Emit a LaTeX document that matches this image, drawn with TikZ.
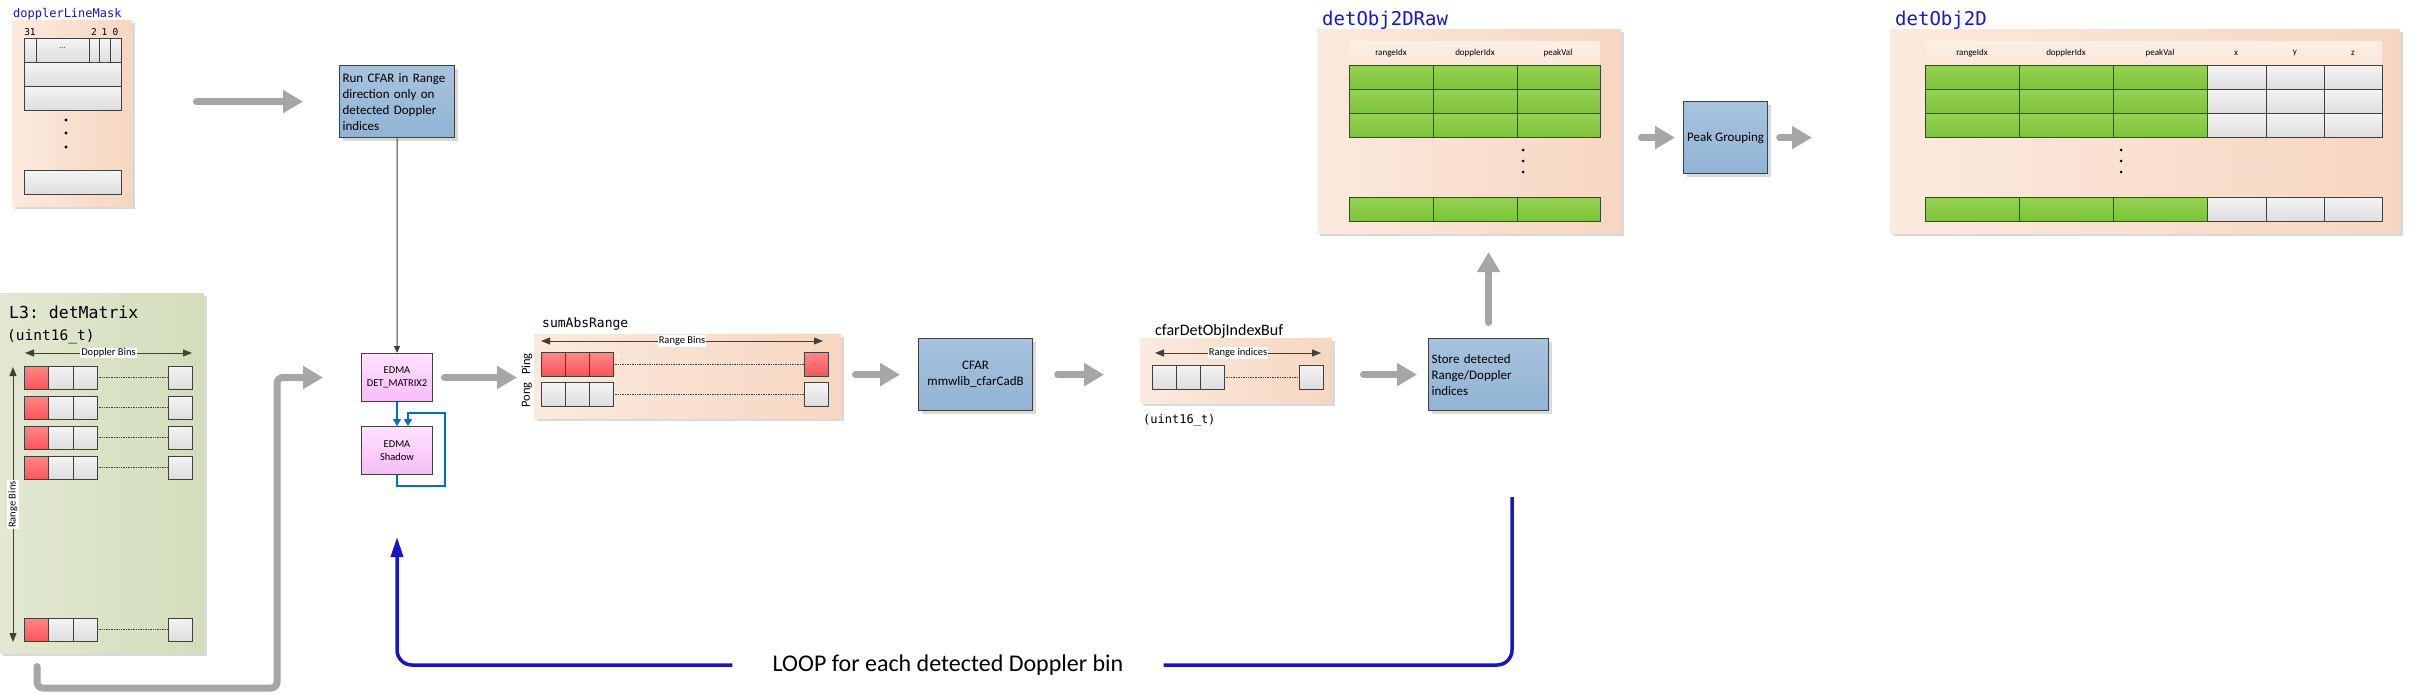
\documentclass[tikz,border=0pt]{standalone}
\usepackage{fontspec}
\setmainfont{Carlito}
\setmonofont{DejaVu Sans Mono}
\usetikzlibrary{arrows.meta,positioning,calc,shadows}

\definecolor{peachL}{RGB}{251,234,222}
\definecolor{peachR}{RGB}{246,214,192}
\definecolor{olivL}{RGB}{226,232,210}
\definecolor{olivR}{RGB}{211,221,186}
\definecolor{procT}{RGB}{167,195,222}
\definecolor{procB}{RGB}{145,179,212}
\definecolor{edmaT}{RGB}{255,226,255}
\definecolor{edmaB}{RGB}{247,188,247}
\definecolor{redT}{RGB}{255,135,135}
\definecolor{redB}{RGB}{250,85,90}
\definecolor{grayT}{RGB}{244,244,244}
\definecolor{grayB}{RGB}{222,222,222}
\definecolor{grnT}{RGB}{150,210,85}
\definecolor{grnB}{RGB}{125,195,55}
\definecolor{arrowC}{RGB}{166,166,166}
\definecolor{loopC}{RGB}{22,22,200}
\definecolor{edmaC}{RGB}{0,112,192}
\definecolor{titleC}{RGB}{22,22,210}
\definecolor{lineC}{RGB}{64,64,64}

\newcommand{\fs}[2]{\fontsize{#1}{#2}\selectfont}
\newcommand{\cellh}{24}

\tikzset{
  softshadow/.style={drop shadow={shadow xshift=3pt, shadow yshift=-3pt, fill=black, opacity=0.15}},
  memarea/.style={anchor=north west, inner sep=0pt, outer sep=0pt, left color=peachL, right color=peachR, softshadow},
  matarea/.style={anchor=north west, inner sep=0pt, outer sep=0pt, left color=olivL, right color=olivR, softshadow},
  procbox/.style={anchor=north west, draw=lineC, line width=1.2pt, top color=procT, bottom color=procB, inner sep=3pt, font=\fs{13}{16}, softshadow},
  edmabox/.style={anchor=north west, draw=lineC, line width=1pt, top color=edmaT, bottom color=edmaB, inner sep=2pt, align=center, font=\fs{10.5}{12.5}, minimum width=71pt, minimum height=48pt},
  graycell/.style={draw=lineC, line width=1pt, top color=grayT, bottom color=grayB},
  redcell/.style={draw=lineC, line width=1pt, top color=redT, bottom color=redB},
  greencell/.style={draw=lineC, line width=1pt, top color=grnT, bottom color=grnB},
  hdrband/.style={top color=white!25!peachL, bottom color=peachL!85!peachR},
  dotline/.style={draw=lineC, line width=0.7pt, densely dotted},
  dimarrow/.style={draw=lineC, line width=1pt, {Triangle[length=9pt,width=7pt]}-{Triangle[length=9pt,width=7pt]}},
  dimlbl/.style={fill=white, inner sep=1pt, font=\fs{10.5}{12}},
  collbl/.style={inner sep=0pt, font=\fs{9}{10}},
  lbl/.style={inner sep=0pt, anchor=base west},
  bitlbl/.style={inner sep=0pt, font=\ttfamily\fs{9.5}{10}},
  bigarrow/.style={draw=arrowC, line width=7pt, line cap=round, -{Triangle[length=20pt,width=22pt]}},
  thinarrow/.style={draw=lineC, line width=1pt, -{Triangle[length=7pt,width=6pt]}},
  edmaarrow/.style={draw=edmaC, line width=1.2pt, -{Triangle[length=7pt,width=8pt]}},
  loopline/.style={draw=loopC, line width=3.5pt},
}

\begin{document}
\begin{tikzpicture}[x=1pt, y=-1pt]
\useasboundingbox (0,0) rectangle (2415,694);

% dopplerLineMask
\node[memarea, minimum width=120pt, minimum height=186pt] (mask) at (12,20) {};
\node[lbl, font=\ttfamily\fs{12}{14}, text=titleC] (masktitle) at (13,17) {dopplerLineMask};
\node[bitlbl] (b31) at (30,32) {31};
\node[bitlbl] (b2) at (94,32) {2};
\node[bitlbl] (b1) at (104.5,32) {1};
\node[bitlbl] (b0) at (115.5,32) {0};
\foreach \xa/\xb in {24/36,36/89,89/99,99/110,110/121}
  \draw[graycell] (\xa,38) rectangle (\xb,62);
\node[inner sep=0pt, font=\fs{9}{9}, text=black!70] (maskdots) at (62.5,48) {...};
\foreach \ya in {62,86,170}
  \draw[graycell] (24,\ya) rectangle (121,\ya+\cellh);
\foreach \yy in {120,133,147}
  \fill (66,\yy) circle (1.6pt);

% detMatrix in L3
\node[matarea, minimum width=204pt, minimum height=360pt] (detmat) at (0,293) {};
\node[lbl, font=\ttfamily\fs{16.5}{18}] (dmtitle) at (9,318) {L3: detMatrix};
\node[lbl, font=\ttfamily\fs{14.5}{16}] (dmtype) at (7,340) {(uint16\_t)};
\draw[dimarrow] (25,353) -- (192,353) node[midway, dimlbl] (dmdop) {Doppler Bins};
\draw[dimarrow] (13,367) -- (13,642) node[midway, dimlbl, rotate=90] (dmrng) {Range Bins};
\foreach \yy in {366,396,426,456,618}{
  \draw[redcell] (24,\yy) rectangle (48,\yy+23);
  \draw[graycell] (48,\yy) rectangle (73,\yy+23);
  \draw[graycell] (73,\yy) rectangle (97,\yy+23);
  \draw[dotline] (97,\yy+11.5) -- (168,\yy+11.5);
  \draw[graycell] (168,\yy) rectangle (192,\yy+23);
}

% processing blocks
\node[procbox, minimum width=115pt, minimum height=72pt, text width=109pt, align=left] (runcfar) at (339,65)
  {Run CFAR in Range\\direction only on\\detected Doppler\\indices};
\node[edmabox] (edmadet) at (361,353) {EDMA\\DET\_MATRIX2};
\node[edmabox] (edmashadow) at (361,426) {EDMA\\Shadow};
\node[procbox, minimum width=114pt, minimum height=72pt, align=center] (cfar) at (918,338) {CFAR\\mmwlib\_cfarCadB};
\node[procbox, minimum width=120pt, minimum height=72pt, text width=114pt, align=left] (store) at (1428,338)
  {Store detected\\Range/Doppler\\indices};
\node[procbox, minimum width=84pt, minimum height=72pt, align=center] (peak) at (1683,101) {Peak Grouping};

% sumAbsRange
\node[memarea, minimum width=307pt, minimum height=84pt] (sumabs) at (534,334) {};
\node[lbl, font=\ttfamily\fs{13}{15}] (sumabstitle) at (542,327) {sumAbsRange};
\draw[dimarrow] (541,341) -- (823,341) node[midway, dimlbl] (sumrng) {Range Bins};
\foreach \yy/\sty in {352/redcell,382/graycell}{
  \foreach \xa in {541,565,589}
    \draw[\sty] (\xa,\yy) rectangle (\xa+24,\yy+24);
  \draw[dotline] (613,\yy+12) -- (804,\yy+12);
  \draw[\sty] (804,\yy) rectangle (828,\yy+24);
}
\node[rotate=90, inner sep=0pt, font=\fs{12.5}{14}] (pinglbl) at (527,364) {Ping};
\node[rotate=90, inner sep=0pt, font=\fs{12.5}{14}] (ponglbl) at (527,395) {Pong};

% cfarDetObjIndexBuf
\node[lbl, font=\fs{16}{18}] (cfartitle) at (1155,335) {cfarDetObjIndexBuf};
\node[memarea, minimum width=192pt, minimum height=65pt] (cfarbuf) at (1140,338) {};
\draw[dimarrow] (1155,353) -- (1321,353) node[midway, dimlbl] (cfarrng) {Range indices};
\foreach \xa in {1152,1176,1200}
  \draw[graycell] (\xa,365) rectangle (\xa+24,389);
\draw[dotline] (1224,377) -- (1299,377);
\draw[graycell] (1299,365) rectangle (1323,389);
\node[lbl, font=\ttfamily\fs{12}{14}] (cfartype) at (1143,423) {(uint16\_t)};

% detObj2DRaw
\node[lbl, font=\ttfamily\fs{19}{21}, text=titleC] (rawtitle) at (1322,25) {detObj2DRaw};
\node[memarea, minimum width=304pt, minimum height=204pt] (raw) at (1317,29) {};
\fill[hdrband] (1349,41) rectangle (1600,65);
\foreach \xx/\txt [count=\i] in {1391/rangeIdx,1475/dopplerIdx,1558/peakVal}
  \node[collbl] (rawcol\i) at (\xx,53) {\txt};
\foreach \yy in {65,89,113,197}
  \foreach \xa/\xb in {1349/1433,1433/1517,1517/1600}
    \draw[greencell] (\xa,\yy) rectangle (\xb,\yy+\cellh);
\foreach \yy in {150,161,172}
  \fill (1523,\yy) circle (1.5pt);

% detObj2D
\node[lbl, font=\ttfamily\fs{19}{21}, text=titleC] (objtitle) at (1895,25) {detObj2D};
\node[memarea, minimum width=510pt, minimum height=204pt] (obj) at (1890,29) {};
\fill[hdrband] (1925,41) rectangle (2382,65);
\foreach \xx/\txt [count=\i] in {1972/rangeIdx,2066/dopplerIdx,2160/peakVal,2236/x,2295/y,2353/z}
  \node[collbl] (objcol\i) at (\xx,53) {\txt};
\foreach \yy in {65,89,113,197}{
  \foreach \xa/\xb in {1925/2019,2019/2113,2113/2207}
    \draw[greencell] (\xa,\yy) rectangle (\xb,\yy+\cellh);
  \foreach \xa/\xb in {2207/2266,2266/2324,2324/2382}
    \draw[graycell] (\xa,\yy) rectangle (\xb,\yy+\cellh);
}
\foreach \yy in {150,161,172}
  \fill (2121,\yy) circle (1.5pt);

% data flow
\draw[bigarrow, shorten <=64.5pt, shorten >=36pt] (runcfar.west -| mask.east) -- (runcfar.west);
\draw[thinarrow] (runcfar) -- (edmadet);
\draw[bigarrow, rounded corners=6pt] ($(detmat.south west)+(37,13.5)$) -- ++(0,21.5)
  -| ($(edmadet.west)+(-84,0)$) -- ($(edmadet.west)+(-38,0)$);
\draw[edmaarrow] (edmadet) -- (edmashadow);
\draw[edmaarrow] (edmashadow.south) -- ++(0,11) -| ($(edmashadow.north east)+(12,-13)$)
  -| ($(edmashadow.north)+(11,0)$);
\draw[bigarrow, shorten <=11.5pt, shorten >=17pt] (edmadet.east) -- (edmadet.east -| sumabs.west);
\draw[bigarrow, shorten <=14.5pt, shorten >=18pt] (sumabs.east |- cfar.west) -- (cfar.west);
\draw[bigarrow, shorten <=24.5pt, shorten >=36pt] (cfar.east) -- (cfar.east -| cfarbuf.west);
\draw[bigarrow, shorten <=31.5pt, shorten >=11pt] (store.west -| cfarbuf.east) -- (store.west);
\draw[bigarrow, shorten <=15.5pt, shorten >=19pt] (store.north) -- (store.north |- raw.south);
\draw[bigarrow, shorten <=20.5pt, shorten >=8pt] (peak.west -| raw.east) -- (peak.west);
\draw[bigarrow, shorten <=11.5pt, shorten >=78pt] (peak.east) -- (peak.east -| obj.west);

% loop back
\node[inner xsep=40pt, font=\fs{24}{28}] (looptxt) at (948,665) {LOOP for each detected Doppler bin};
\coordinate (loopstart) at (1512,497);
\draw[loopline, rounded corners=15pt] (loopstart) |- (looptxt.east);
\draw[loopline, rounded corners=15pt, -{Triangle[length=20pt,width=12pt]}] (looptxt.west)
  -| ($(edmashadow.south)+(0,62)$);
\end{tikzpicture}
\end{document}
